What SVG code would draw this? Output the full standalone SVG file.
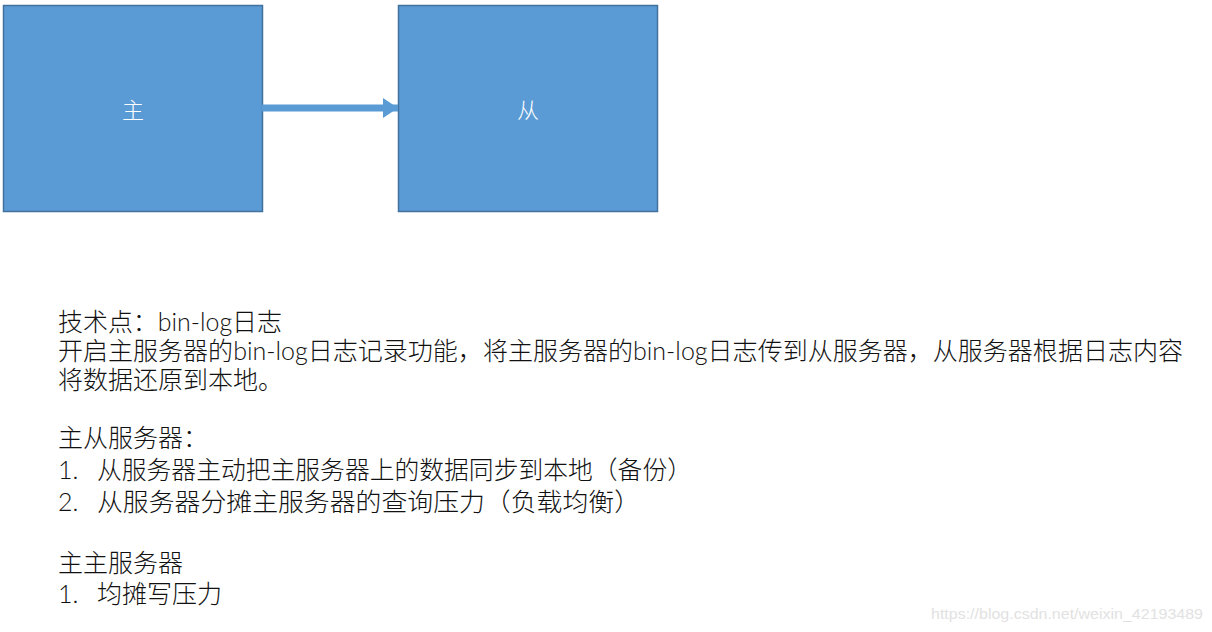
<svg xmlns="http://www.w3.org/2000/svg" width="1212" height="632" viewBox="0 0 1212 632">
<style>
.box{fill:#5B9BD5;stroke:#41719C;stroke-width:1.5}
.lbl{fill:#fff;font-family:"Noto Sans CJK SC",sans-serif;font-size:22px;text-anchor:middle;dominant-baseline:central;font-weight:300}
.t{fill:#111;font-family:"Lato","Noto Sans CJK SC",sans-serif;font-size:25px;font-weight:300}
.wm{fill:#e2e2e2;font-family:"Liberation Sans",sans-serif;font-size:15px}
</style>
<defs>
<marker id="ah" markerWidth="15" markerHeight="20" refX="15" refY="10" orient="auto" markerUnits="userSpaceOnUse">
<polygon points="0,0 15,10 0,20" fill="#5B9BD5"/>
</marker>
</defs>
<rect width="1212" height="632" fill="#fff"/>
<g id="node-master">
<rect class="box" x="3.5" y="5.5" width="259" height="206"/>
<text class="lbl" x="133" y="108">主</text>
</g>
<g id="node-slave">
<rect class="box" x="398.5" y="5.5" width="259" height="206"/>
<text class="lbl" x="528" y="108">从</text>
</g>
<g id="connectors">
<line x1="262" y1="108" x2="398" y2="108" stroke="#5B9BD5" stroke-width="7" marker-end="url(#ah)"/>
</g>
<g id="notes">
<text class="t" x="58" y="331" textLength="224" lengthAdjust="spacingAndGlyphs">技术点：bin-log日志</text>
<text class="t" x="58" y="360" textLength="1125" lengthAdjust="spacingAndGlyphs">开启主服务器的bin-log日志记录功能，将主服务器的bin-log日志传到从服务器，从服务器根据日志内容</text>
<text class="t" x="58" y="389">将数据还原到本地。</text>
<text class="t" x="58" y="447">主从服务器：</text>
<text class="t" x="58" y="479">1.</text>
<text class="t" x="97" y="479" textLength="595" lengthAdjust="spacingAndGlyphs">从服务器主动把主服务器上的数据同步到本地（备份）</text>
<text class="t" x="58" y="511">2.</text>
<text class="t" x="97" y="511" textLength="543" lengthAdjust="spacingAndGlyphs">从服务器分摊主服务器的查询压力（负载均衡）</text>
<text class="t" x="58" y="572">主主服务器</text>
<text class="t" x="58" y="603">1.</text>
<text class="t" x="97" y="603">均摊写压力</text>
</g>
<text class="wm" x="931" y="619" textLength="272" lengthAdjust="spacingAndGlyphs">https://blog.csdn.net/weixin_42193489</text>
</svg>
